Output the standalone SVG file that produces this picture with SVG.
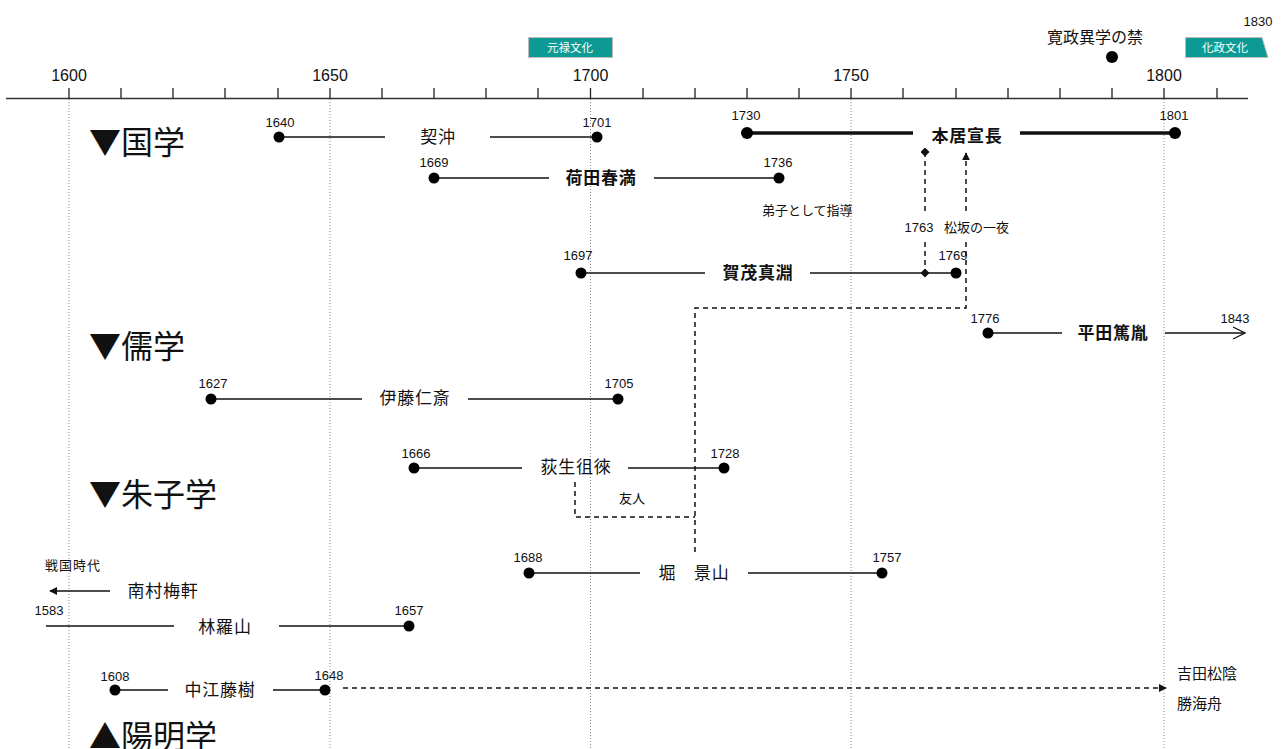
<svg xmlns="http://www.w3.org/2000/svg" width="1283" height="749" viewBox="0 0 1283 749">
<defs>
<style>
text{font-family:"Liberation Sans","Noto Sans CJK JP",sans-serif;fill:#111;dominant-baseline:central}
.yr{font-size:13px;text-anchor:middle}
.ax{font-size:16px;text-anchor:middle}
.nm{font-size:17px;text-anchor:middle;letter-spacing:0.8px}
.nb{font-size:17px;text-anchor:middle;font-weight:bold;letter-spacing:0.8px}
.hd{font-size:32px;font-family:"Noto Sans CJK JP",sans-serif}
.sm{font-size:13px}
.ln{stroke:#111;stroke-width:1.5;fill:none}
.thick{stroke:#111;stroke-width:3.5;fill:none}
.dash{stroke:#111;stroke-width:1.5;fill:none;stroke-dasharray:5,4}
.grid{stroke:#888;stroke-width:1;stroke-dasharray:1,2;fill:none}
.dot{fill:#000}
.tag{fill:#0E9A94;stroke:#bbb;stroke-width:1}
.tagt{font-size:11.5px;fill:#fff;text-anchor:middle}
</style>
<marker id="arr" viewBox="0 0 10 10" refX="9" refY="5" markerWidth="8" markerHeight="8" markerUnits="userSpaceOnUse" orient="auto-start-reverse"><path d="M0,0 L10,5 L0,10 z" fill="#111"/></marker>
<marker id="dia" viewBox="0 0 10 10" refX="5" refY="5" markerWidth="9" markerHeight="9" markerUnits="userSpaceOnUse" orient="auto"><path d="M5,0 L10,5 L5,10 L0,5 z" fill="#111"/></marker>
<marker id="open" viewBox="0 0 14 14" refX="13" refY="7" markerWidth="14" markerHeight="14" markerUnits="userSpaceOnUse" orient="auto"><path d="M1,1 L13,7 L1,13" fill="none" stroke="#111" stroke-width="1.3"/></marker>
</defs>
<rect width="1283" height="749" fill="#fff"/>

<g id="grid">
<line class="grid" x1="69" y1="99" x2="69" y2="749"/>
<line class="grid" x1="330" y1="99" x2="330" y2="749"/>
<line class="grid" x1="590.5" y1="99" x2="590.5" y2="749"/>
<line class="grid" x1="851" y1="99" x2="851" y2="749"/>
<line class="grid" x1="1164" y1="99" x2="1164" y2="749"/>
</g>

<g id="axis">
<line x1="6" y1="98.5" x2="1248" y2="98.5" stroke="#333" stroke-width="1.5"/>
<path stroke="#222" stroke-width="1.3" d="M69,88V98 M121,88V98 M173,88V98 M225,88V98 M278,88V98 M330,88V98 M382,88V98 M434,88V98 M486,88V98 M538,88V98 M590.5,88V98 M643,88V98 M695,88V98 M747,88V98 M799,88V98 M851,88V98 M903,88V98 M956,88V98 M1008,88V98 M1060,88V98 M1112,88V98 M1164,88V98 M1217,88V98"/>
<text class="ax" x="69" y="75">1600</text>
<text class="ax" x="330" y="75">1650</text>
<text class="ax" x="590.5" y="75">1700</text>
<text class="ax" x="851" y="75">1750</text>
<text class="ax" x="1164" y="75">1800</text>
</g>

<g id="genroku">
<rect class="tag" x="528.5" y="37.5" width="84" height="20"/>
<text class="tagt" x="570" y="47.5">元禄文化</text>
</g>
<g id="kasei">
<path class="tag" d="M1185.5,37.5 H1262 L1268,57.5 H1185.5 Z"/>
<text class="tagt" x="1225" y="47.5">化政文化</text>
<text class="yr" x="1258" y="21">1830</text>
</g>
<g id="kansei">
<text x="1095" y="37" style="font-size:16px;text-anchor:middle">寛政異学の禁</text>
<circle class="dot" cx="1112" cy="57" r="6"/>
</g>

<g id="headers">
<text class="hd" x="89" y="140">▼国学</text>
<text class="hd" x="89" y="344">▼儒学</text>
<text class="hd" x="89" y="492">▼朱子学</text>
<text class="hd" x="89" y="734">▲陽明学</text>
</g>

<g id="connectors">
<line class="dash" x1="925" y1="211" x2="925" y2="152" marker-end="url(#dia)"/>
<line class="dash" x1="925" y1="242" x2="925" y2="273" marker-end="url(#dia)"/>
<polyline class="dash" points="695,552 695,308 966,308 966,242"/>
<line class="dash" x1="966" y1="211" x2="966" y2="153" marker-end="url(#arr)"/>
<polyline class="dash" points="575,482 575,517 695,517"/>
<line class="dash" x1="343" y1="688" x2="1166" y2="688" marker-end="url(#arr)"/>
<text class="sm" x="762" y="210">弟子として指導</text>
<text class="sm" x="919" y="227" style="text-anchor:middle">1763</text>
<text class="sm" x="944" y="227">松坂の一夜</text>
<text class="sm" x="632" y="498" style="text-anchor:middle">友人</text>
</g>

<g id="keichu">
<line class="ln" x1="279" y1="137" x2="385" y2="137"/>
<line class="ln" x1="490" y1="137" x2="597" y2="137"/>
<circle class="dot" cx="279" cy="137" r="5.5"/>
<circle class="dot" cx="597" cy="137" r="5.5"/>
<text class="nm" x="438" y="137">契沖</text>
<text class="yr" x="280" y="122">1640</text>
<text class="yr" x="597" y="122">1701</text>
</g>

<g id="motoori">
<line class="thick" x1="747" y1="133" x2="913" y2="133"/>
<line class="thick" x1="1020" y1="133" x2="1175" y2="133"/>
<circle class="dot" cx="747" cy="133" r="6"/>
<circle class="dot" cx="1175" cy="133" r="6"/>
<text class="nb" x="967" y="136">本居宣長</text>
<text class="yr" x="746" y="115">1730</text>
<text class="yr" x="1174" y="115">1801</text>
</g>

<g id="kadano">
<line class="ln" x1="434" y1="178" x2="549" y2="178"/>
<line class="ln" x1="654" y1="178" x2="779" y2="178"/>
<circle class="dot" cx="434" cy="178" r="5.5"/>
<circle class="dot" cx="779" cy="178" r="5.5"/>
<text class="nb" x="601" y="178">荷田春満</text>
<text class="yr" x="434" y="162">1669</text>
<text class="yr" x="778" y="162">1736</text>
</g>

<g id="kamono">
<line class="ln" x1="581" y1="273" x2="705" y2="273"/>
<line class="ln" x1="810" y1="273" x2="956" y2="273"/>
<circle class="dot" cx="581" cy="273" r="5.5"/>
<circle class="dot" cx="956" cy="273" r="5.5"/>
<text class="nb" x="758" y="273">賀茂真淵</text>
<text class="yr" x="578" y="255">1697</text>
<text class="yr" x="953" y="255">1769</text>
</g>

<g id="hirata">
<line class="ln" x1="988" y1="333" x2="1062" y2="333"/>
<line class="ln" x1="1165" y1="333" x2="1245" y2="333" marker-end="url(#open)"/>
<circle class="dot" cx="988" cy="333" r="5.5"/>
<text class="nb" x="1113" y="333">平田篤胤</text>
<text class="yr" x="985" y="318">1776</text>
<text class="yr" x="1235" y="318">1843</text>
</g>

<g id="ito">
<line class="ln" x1="211" y1="399" x2="362" y2="399"/>
<line class="ln" x1="468" y1="399" x2="618" y2="399"/>
<circle class="dot" cx="211" cy="399" r="5.5"/>
<circle class="dot" cx="618" cy="399" r="5.5"/>
<text class="nm" x="415" y="398">伊藤仁斎</text>
<text class="yr" x="213" y="383">1627</text>
<text class="yr" x="619" y="383">1705</text>
</g>

<g id="ogyu">
<line class="ln" x1="414" y1="468" x2="522" y2="468"/>
<line class="ln" x1="628" y1="468" x2="724" y2="468"/>
<circle class="dot" cx="414" cy="468" r="5.5"/>
<circle class="dot" cx="724" cy="468" r="5.5"/>
<text class="nm" x="576" y="467">荻生徂徠</text>
<text class="yr" x="416" y="453">1666</text>
<text class="yr" x="725" y="453">1728</text>
</g>

<g id="hori">
<line class="ln" x1="529" y1="573" x2="640" y2="573"/>
<line class="ln" x1="748" y1="573" x2="882" y2="573"/>
<circle class="dot" cx="529" cy="573" r="5.5"/>
<circle class="dot" cx="882" cy="573" r="5.5"/>
<text class="nm" x="694" y="573">堀　景山</text>
<text class="yr" x="528" y="557">1688</text>
<text class="yr" x="887" y="557">1757</text>
</g>

<g id="minamimura">
<line class="ln" x1="110" y1="591" x2="50" y2="591" marker-end="url(#arr)"/>
<text class="sm" x="45" y="565" style="letter-spacing:1px">戦国時代</text>
<text class="nm" x="163" y="591">南村梅軒</text>
</g>

<g id="hayashi">
<line class="ln" x1="46" y1="626" x2="174" y2="626"/>
<line class="ln" x1="279" y1="626" x2="409" y2="626"/>
<circle class="dot" cx="409" cy="626" r="5.5"/>
<text class="nm" x="225" y="627">林羅山</text>
<text class="yr" x="49" y="610">1583</text>
<text class="yr" x="409" y="610">1657</text>
</g>

<g id="nakae">
<line class="ln" x1="115" y1="690" x2="168" y2="690"/>
<line class="ln" x1="273" y1="690" x2="325" y2="690"/>
<circle class="dot" cx="115" cy="690" r="5.5"/>
<circle class="dot" cx="325" cy="690" r="5.5"/>
<text class="nm" x="220" y="690">中江藤樹</text>
<text class="yr" x="115" y="676">1608</text>
<text class="yr" x="329" y="675">1648</text>
</g>

<g id="yoshida">
<text x="1177" y="673" style="font-size:15px">吉田松陰</text>
<text x="1177" y="703" style="font-size:15px">勝海舟</text>
</g>
</svg>
